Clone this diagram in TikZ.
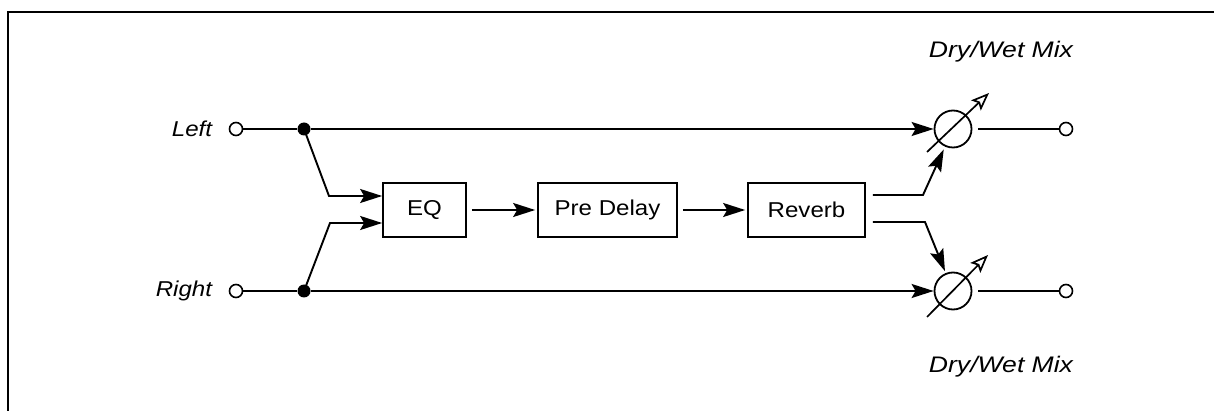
\documentclass[tikz,border=0pt]{standalone}
\usepackage{fontspec}
\setmainfont{Liberation Sans}
\newfontfamily\widefont{Liberation Sans}[FakeStretch=1.12]
\newfontfamily\widerfont{Liberation Sans}[FakeStretch=1.18]
\usetikzlibrary{arrows.meta,calc}
\begin{document}
\begin{tikzpicture}[x=1pt,y=-1pt,line width=1.9pt,
  arr/.style={-{Stealth[length=22pt,width=14pt,inset=4pt]}},
  varr/.style={line width=1.7pt,-{Stealth[open,length=18pt,width=14pt,inset=3.5pt]}},
  blk/.style={draw,line width=1.7pt,minimum height=54pt,inner sep=0pt,font=\widefont\fontsize{21.5}{24}\selectfont},
  term/.style={circle,draw,line width=1.6pt,minimum size=13pt,inner sep=0pt},
  jdot/.style={circle,fill,minimum size=13pt,inner sep=0pt},
  mix/.style={circle,draw,line width=1.8pt,minimum size=37pt,inner sep=0pt},
  lbl/.style={font=\widefont\fontsize{21.5}{24}\selectfont\itshape,inner sep=0pt},
  mixlbl/.style={font=\widerfont\fontsize{22.5}{24}\selectfont\itshape,inner sep=0pt}]
\useasboundingbox (0,0) rectangle (1214,411);
\draw[line width=2.8pt] (8,411) -- (8,12) -- (1214,12);

\node[term] (lin) at (236,129) {};
\node[term] (rin) at (236,291) {};
\node[lbl,anchor=east] (ll) at (213,129) {Left};
\node[lbl,anchor=east] (rl) at (213,291) {Right};
\node[jdot] (ld) at (304,129) {};
\node[jdot] (rd) at (304,291) {};
\node[blk,minimum width=83pt] (eq) at (424.5,210) {EQ};
\node[blk,minimum width=139pt] (pd) at (607.5,210) {Pre Delay};
\node[blk,minimum width=117pt] (rv) at (806.5,210) {Reverb};
\node[mix] (m1) at (953,129) {};
\node[mix] (m2) at (953,291) {};
\node[term] (lo) at (1066,129) {};
\node[term] (ro) at (1066,291) {};
\node[mixlbl] (t1) at (1001,52) {Dry/Wet Mix};
\node[mixlbl] (t2) at (1001,367) {Dry/Wet Mix};

\coordinate (b1) at (329,196);
\coordinate (b2) at (330,223);
\coordinate (c1) at (923,195);
\coordinate (c2) at (925,222);

\draw (lin) -- (ld);
\draw (rin) -- (rd);
\draw[arr] (ld) -- (m1);
\draw[arr] (rd) -- (m2);
\draw[arr] (ld.center) -- (b1) -- (b1 -| eq.west);
\draw[arr] (rd.center) -- (b2) -- (b2 -| eq.west);
\draw[arr,shorten <=5pt,shorten >=2pt] (eq) -- (pd);
\draw[arr,shorten <=5pt,shorten >=2pt] (pd) -- (rv);
\draw[arr,shorten <=7pt,shorten >=3pt] (c1 -| rv.east) -- (c1) -- (m1);
\draw[arr,shorten <=7pt,shorten >=2pt] (c2 -| rv.east) -- (c2) -- (m2);
\draw[varr] ($(m1)+(-26,23)$) -- ($(m1)+(36,-36)$);
\draw[varr] ($(m2)+(-26,26)$) -- ($(m2)+(35,-36)$);
\draw[shorten <=6pt] (m1) -- (lo);
\draw[shorten <=6pt] (m2) -- (ro);
\end{tikzpicture}
\end{document}
